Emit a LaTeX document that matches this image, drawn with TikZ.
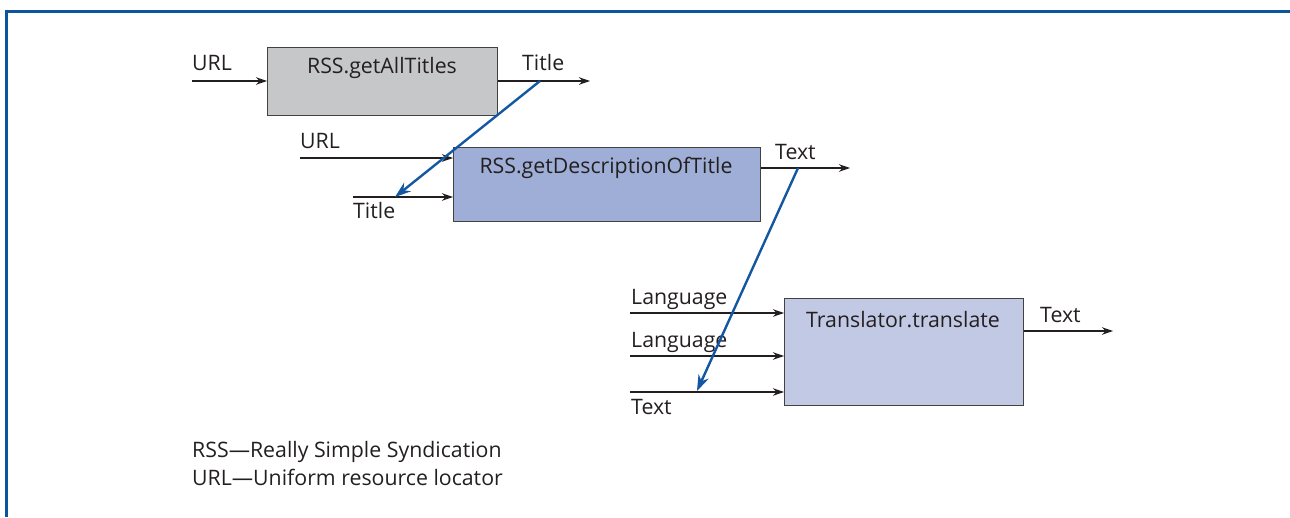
\documentclass[tikz,border=0pt]{standalone}
\usepackage{fontspec}
\setmainfont{Open Sans}
\usetikzlibrary{arrows.meta}
\definecolor{frameblue}{HTML}{0B559F}
\definecolor{linkblue}{HTML}{1356A2}
\definecolor{ink}{HTML}{231F20}
\definecolor{fillgray}{HTML}{C6C7C9}
\definecolor{fillmid}{HTML}{9EAED6}
\definecolor{filllight}{HTML}{C2C9E4}
\tikzset{
  x=1pt, y=-1pt,
  opbox/.style={draw=ink!85, line width=1.3pt, inner sep=0pt, anchor=north west},
  boxtext/.style={font=\fontsize{21.3}{24}\selectfont, text=ink, inner sep=0pt, anchor=center},
  lbl/.style={font=\fontsize{21.3}{24}\selectfont, text=ink, inner sep=0pt},
  flow/.style={draw=ink, line width=1.1pt, -{Stealth[length=11pt,width=7.5pt]}},
  link/.style={draw=linkblue, line width=2.4pt, -{Stealth[length=16pt,width=11pt]}},
}
\begin{document}
\begin{tikzpicture}
\useasboundingbox (0,0) rectangle (1290,517);
% frame
\draw[frameblue, line width=3pt] (6,11) -- (1290,11);
\draw[frameblue, line width=3pt] (6,9.5) -- (6,517);

% operation boxes
\node[opbox, fill=fillgray, minimum width=230pt, minimum height=68pt] (b1) at (267,47) {};
\node[boxtext] (t1) at (382,68) {RSS.getAllTitles};
\node[opbox, fill=fillmid, minimum width=307pt, minimum height=74pt] (b2) at (453,147) {};
\node[boxtext] (t2) at (606,168) {RSS.getDescriptionOfTitle};
\node[opbox, fill=filllight, minimum width=239pt, minimum height=107pt] (b3) at (784,298) {};
\node[boxtext] (t3) at (903,320) {Translator.translate};

% inputs and outputs of the first box
\coordinate (u1) at (192,81);
\coordinate (o1) at (590,81);
\draw[flow] (u1) -- (u1 -| b1.west);
\draw[flow] (o1 -| b1.east) -- (o1);
\node[lbl, anchor=base west] (lu1) at (192,70) {URL};
\node[lbl, anchor=base west] (lo1) at (522,70) {Title};

% inputs and outputs of the second box
\coordinate (u2) at (300,158);
\coordinate (i2) at (353,197);
\coordinate (o2) at (850,168);
\draw[flow] (u2) -- (u2 -| b2.west);
\draw[flow] (i2) -- (i2 -| b2.west);
\draw[flow] (o2 -| b2.east) -- (o2);
\node[lbl, anchor=base west] (lu2) at (300,148) {URL};
\node[lbl, anchor=base west] (li2) at (353,218) {Title};
\node[lbl, anchor=base west] (lo2) at (775,159) {Text};

% inputs and outputs of the third box
\coordinate (g1) at (630,313);
\coordinate (g2) at (630,356);
\coordinate (x3) at (630,392);
\coordinate (o3) at (1113,331);
\draw[flow] (g1) -- (g1 -| b3.west);
\draw[flow] (g2) -- (g2 -| b3.west);
\draw[flow] (x3) -- (x3 -| b3.west);
\draw[flow] (o3 -| b3.east) -- (o3);
\node[lbl, anchor=base west] (lg1) at (631,304) {Language};
\node[lbl, anchor=base west] (lg2) at (631,347) {Language};
\node[lbl, anchor=base west] (lx3) at (631,414) {Text};
\node[lbl, anchor=base west] (lo3) at (1040,322) {Text};

% data passed from one call to the next
\coordinate (s1) at (540,81);
\coordinate (e1) at (395,197);
\coordinate (s2) at (798,168);
\coordinate (e2) at (697,391);
\draw[link] (s1) -- (e1);
\draw[link] (s2) -- (e2);

% legend
\node[lbl, anchor=base west] (k1) at (192,457) {RSS—Really Simple Syndication};
\node[lbl, anchor=base west] (k2) at (192,485) {URL—Uniform resource locator};
\end{tikzpicture}
\end{document}
